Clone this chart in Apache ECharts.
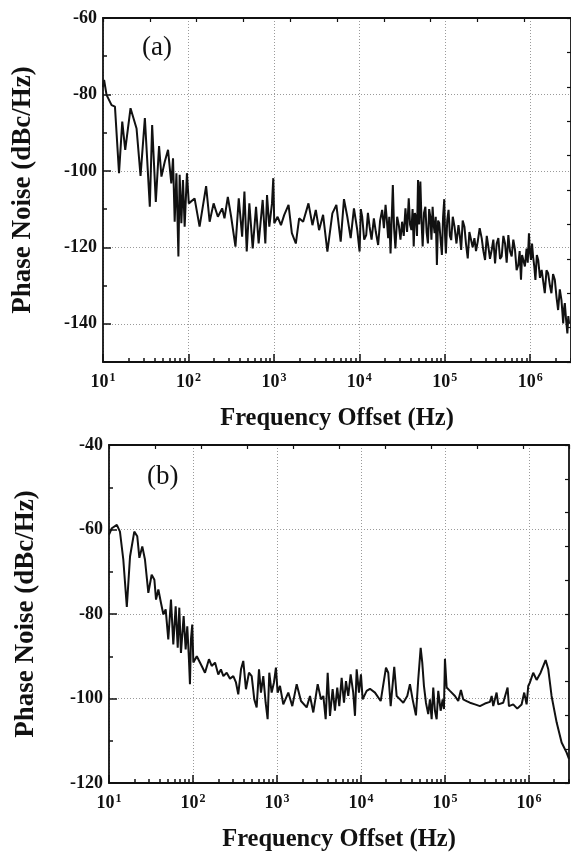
<!DOCTYPE html>
<html><head><meta charset="utf-8">
<script src="https://cdn.jsdelivr.net/npm/echarts@6/dist/echarts.min.js"></script>
<style>html,body{margin:0;padding:0;background:#fff}#c{width:571px;height:853px}</style>
</head><body><div id="c"></div>
<script>
// ---------- data: panel (a) ----------
const freqA = [10, 10.3, 11, 12.6, 13.8, 15.4, 16.8, 18.2, 21, 24.7, 27.5, 30.9, 35.3, 37.6, 41.5, 45.3, 48.3, 52.8, 57.7, 63, 66, 69, 72.3, 76.3, 78.9, 82.6, 86.3, 90.3, 96, 101, 118, 135, 161, 177, 197, 221, 248, 264, 289, 316, 355, 388, 425, 452, 481, 516, 565, 618, 663, 739, 794, 831, 884, 950, 984, 1010, 1105, 1210, 1322, 1484, 1623, 1806, 1975, 2200, 2538, 2826, 3093, 3380, 3765, 4227, 4835, 5385, 6050, 6610, 7230, 7920, 8650, 9460,
  10070, 10400, 10800, 11400, 12030, 12600, 13180, 13900, 14790, 15600, 16600, 17500, 18490, 19400, 20270, 21000, 21740, 22400, 23180, 23900, 24660, 25500, 26440, 27700, 28970, 30300, 31650, 33100, 34650, 36200, 37860, 39200, 40710, 42000, 43290, 44600, 46050, 47300, 48620, 50200, 51780, 53400, 55080, 57100, 59260, 61300, 63500, 65600, 67700, 69800, 72060, 74000, 76030, 78400, 80860, 83500, 86270, 89300, 92520, 95500, 98620,
  100800, 103000, 106800, 110700, 114800, 118900, 124000, 130000, 137000, 144600, 150000, 155400, 162000, 169800, 177000, 185700, 194000, 203300, 212000, 222200, 232000, 242900, 256000, 270300, 283000, 296000, 310000, 323600, 338000, 354000, 370000, 387600, 405000, 423500, 443000, 463200, 485000, 507200, 530000, 554400, 580000, 606500, 634000, 663500, 693000, 725000, 752000, 779600, 803000, 828600, 866000, 905700, 935000, 966000, 990000,
  1020000, 1050000, 1080000, 1115000, 1150000, 1195000, 1240000, 1300000, 1360000, 1420000, 1480000, 1550000, 1620000, 1700000, 1770000, 1850000, 1940000, 2030000, 2120000, 2220000, 2320000, 2380000, 2430000, 2490000, 2540000, 2630000, 2720000, 2790000, 2850000];
const noiseA = [-78, -76.2, -80.1, -82.8, -83.2, -100.6, -87.1, -94.5, -83.6, -88.9, -101.3, -86.2, -109.4, -88, -108.1, -93.5, -101.5, -97.6, -94.5, -103.3, -96.7, -113.3, -100.6, -122.4, -101, -113.7, -102.4, -114.6, -100.6, -108.5, -107.2, -114.6, -104, -113.3, -108.5, -112, -109.8, -112.4, -106.8, -112, -119.8, -107.2, -117.2, -105.4, -121.1, -108.5, -120.3, -109.4, -119, -107.6, -119, -106.3, -114.6, -108.5, -101.9, -113.7, -112, -114.2, -111.5, -108.9, -116.3, -119, -112.4, -113.3, -108.5, -114.2, -110.2, -115.5, -111.5, -121.1, -111.1, -108.9, -118.5, -107.4, -112, -117.6, -109.8, -115.5,
  -121.1, -110, -112, -118, -116.8, -111, -114.6, -118, -112.4, -116, -119.4, -113, -110.2, -115, -108.9, -113, -117.6, -112, -121.6, -113, -103.7, -115, -120.3, -112, -114.2, -118, -113.3, -117, -109.8, -116, -107.2, -114, -115.5, -110, -119.8, -111, -112, -117, -102.4, -114, -102.8, -113, -119.8, -111, -109.4, -116, -119, -110, -112, -118, -109.4, -114, -116.3, -112, -124.6, -113, -113.7, -118, -122, -112, -107.4,
  -117, -121.6, -113, -110.2, -117, -118.1, -112, -114.6, -119, -114.2, -117, -120.7, -113, -114.6, -119, -122.9, -116, -115.9, -120, -117.6, -121, -118.5, -115, -117.6, -121, -123.3, -117, -119.8, -123, -120.7, -118, -124.2, -119, -117.6, -123, -122.4, -117, -119, -124, -116.8, -121, -122.4, -118, -120.7, -126, -124.6, -121, -128.5, -122, -122.4, -125, -120.3, -124, -116.3, -121,
  -123.3, -119, -122.4, -125, -128.5, -122, -123.3, -128, -125.9, -129, -132, -126, -126.8, -130, -132, -127, -128.5, -133, -136.4, -131, -133.8, -137, -139.9, -136, -134.6, -139, -142.5, -138, -140];

// ---------- data: panel (b) ----------
const freqB = [10, 10.8, 12.4, 13.5, 14.8, 16.3, 17.8, 20, 21.7, 23, 24.9, 26.8, 29.4, 32.2, 34.7, 36.3, 38.7, 41.6, 44.4, 47.3, 50.8, 54.7, 58.3, 62.2, 65.8, 68.7, 71.9, 77.4, 81.8, 85.5, 89.5, 92, 94.6, 98, 101, 111, 127, 139, 155, 167, 183, 200, 215, 230, 252, 276, 302, 325, 346, 373, 397, 427, 464, 500, 537, 573, 611, 645, 687, 733, 774, 810, 864, 921, 972, 1018, 1086, 1189, 1364, 1522, 1717, 1932, 2258, 2473, 2707, 3054, 3343, 3566, 3800, 4016, 4278, 4600, 4900, 5220, 5520, 5890, 6280, 6630, 7060, 7540, 8090, 8490, 8890, 9470, 10000, 10470, 11690, 12800, 14690, 17180, 19860, 21140, 22590, 24910, 26610, 29120, 31910, 35590, 38310, 41210, 45150, 48080, 51400, 53700, 56230, 59420, 63240, 66250, 69450, 72600, 76030, 79650, 83250, 88900, 93900, 97300, 100000, 104800, 114700, 131600, 144000, 155000, 165000, 181000, 198500, 227700, 261000, 299500, 343500, 360000, 376000, 412000, 431000, 494000, 557000, 578000, 650000, 726000, 818000, 879000, 938000, 982000, 1028000, 1125000, 1235000, 1377000, 1580000, 1700000, 1860000, 2140000, 2450000, 2810000, 3000000];
const noiseB = [-61.2, -59.7, -58.9, -60.5, -67.1, -78.3, -66.4, -60.5, -61.6, -66.7, -64, -67.1, -75, -70.7, -71.9, -76.6, -74.2, -77.4, -80.1, -78.9, -86, -76.6, -87.2, -78.2, -88, -78.5, -89.2, -80.5, -88.4, -82.9, -90.7, -96.6, -86, -82.5, -91.5, -90, -92.3, -93.9, -90.7, -92.3, -91.5, -94.3, -93.1, -94.7, -93.9, -95.3, -94.7, -96.2, -99, -93.1, -91.1, -97.8, -93.9, -94.7, -100.2, -102.1, -93.1, -98.6, -94.7, -101, -104.9, -93.9, -98.6, -96.2, -92.7, -98.6, -97, -101.4, -98.6, -101.8, -96.6, -100.6, -102.1, -99.4, -103.3, -96.6, -100.2, -99.4, -104.9, -93.9, -104.1, -97.8, -102.9, -97.4, -101.8, -95.1, -101, -95.9, -99.4, -94.3, -98.6, -104.1, -93.1, -98.6, -94.3, -100.2, -98.2, -97.7, -98.6, -100.6, -92.7, -93.9, -101.8, -92.5, -99.4, -100.2, -101, -99.4, -96.6, -100.2, -104, -95.5, -88, -91.5, -97, -101, -103.7, -100.2, -104.9, -97.4, -102.9, -104.9, -98.2, -102.9, -100.2, -102.5, -90.6, -97.4, -98.2, -99.4, -100.6, -98, -100.2, -100.6, -101, -101.4, -101.8, -101.2, -100.8, -99.4, -101.8, -98.6, -101.4, -101, -97.4, -101.8, -101.4, -102.4, -101.4, -98.6, -101.4, -97, -96.2, -93.9, -95.6, -93.9, -90.9, -93.1, -99.4, -105.7, -110.4, -112.8, -114.3];

// ---------- tick labels ----------
const xMajorTicks = [10, 100, 1000, 10000, 100000, 1000000];
const xMinorTicks = [20,30,40,50,60,70,80,90, 200,300,400,500,600,700,800,900, 2000,3000,4000,5000,6000,7000,8000,9000, 20000,30000,40000,50000,60000,70000,80000,90000, 200000,300000,400000,500000,600000,700000,800000,900000, 2000000,3000000];
const yTicksA = [-140, -120, -100, -80, -60];
const yMinorA = [-150, -130, -110, -90, -70];
const yTicksB = [-120, -100, -80, -60, -40];
const yMinorB = [-110, -90, -70, -50];
const panelLabels = ['(a)', '(b)'];
const xTitle = 'Frequency Offset (Hz)';
const yTitle = 'Phase Noise (dBc/Hz)';

const FONT = '"Liberation Serif", "Times New Roman", serif';
const AX = {color: '#111', width: 1.8};

function xAxes(g, xmax) {
  return [
    { type: 'log', logBase: 10, gridIndex: g, min: 10, max: xmax, position: 'bottom',
      axisLine: {show: true, onZero: false, lineStyle: AX},
      axisTick: {show: true, inside: true, length: 8, customValues: xMajorTicks, lineStyle: {color: '#111', width: 1.5}},
      axisLabel: {show: true, customValues: xMajorTicks, margin: 10,
        formatter: v => '{b|10}{s|' + Math.round(Math.log10(v)) + '}',
        rich: {b: {fontFamily: FONT, fontWeight: 'bold', fontSize: 18, color: '#111'},
               s: {fontFamily: FONT, fontWeight: 'bold', fontSize: 12, color: '#111', padding: [0, 0, 9, 1]}}},
      splitLine: {show: true, lineStyle: {color: '#9a9a9a', width: 1, type: [1, 2]}},
      name: xTitle, nameLocation: 'middle', nameGap: 44,
      nameTextStyle: {fontFamily: FONT, fontWeight: 'bold', fontSize: 24.5, color: '#111'} },
    { type: 'log', logBase: 10, gridIndex: g, min: 10, max: xmax, position: 'bottom',
      axisLine: {show: false},
      axisTick: {show: true, inside: true, length: 4, customValues: xMinorTicks, lineStyle: {color: '#111', width: 1.5}},
      axisLabel: {show: false}, splitLine: {show: false} },
    { type: 'value', gridIndex: g, min: 0, max: 10, interval: 1, position: 'top',
      axisLine: {show: true, onZero: false, lineStyle: AX},
      axisTick: {show: true, inside: true, length: 4, lineStyle: {color: '#111', width: 1.2}},
      axisLabel: {show: false}, splitLine: {show: false} }
  ];
}
function yAxes(g, ymin, ymax, major, minor, gap) {
  return [
    { type: 'value', gridIndex: g, min: ymin, max: ymax, interval: 10, position: 'left',
      axisLine: {show: true, onZero: false, lineStyle: AX},
      axisTick: {show: true, inside: true, length: 8, customValues: major, lineStyle: {color: '#111', width: 1.5}},
      axisLabel: {show: true, customValues: major, margin: 6, fontFamily: FONT, fontWeight: 'bold', fontSize: 18, color: '#111'},
      splitLine: {show: true, lineStyle: {color: '#9a9a9a', width: 1, type: [1, 2]}},
      name: yTitle, nameLocation: 'middle', nameGap: gap, nameRotate: 90,
      nameTextStyle: {fontFamily: FONT, fontWeight: 'bold', fontSize: 27, color: '#111'} },
    { type: 'value', gridIndex: g, min: ymin, max: ymax, position: 'left',
      axisLine: {show: false},
      axisTick: {show: true, inside: true, length: 4, customValues: minor, lineStyle: {color: '#111', width: 1.5}},
      axisLabel: {show: false}, splitLine: {show: false} },
    { type: 'value', gridIndex: g, min: 0, max: 10, interval: 1, position: 'right',
      axisLine: {show: true, onZero: false, lineStyle: AX},
      axisTick: {show: true, inside: true, length: 4, lineStyle: {color: '#111', width: 1.2}},
      axisLabel: {show: false}, splitLine: {show: false} }
  ];
}

const chart = echarts.init(document.getElementById('c'), null, {renderer: 'canvas'});
chart.setOption({
  animation: false,
  backgroundColor: '#fff',
  grid: [
    {left: 103, top: 18, right: -2, bottom: 491, containLabel: false},
    {left: 109, top: 445, right: 2, bottom: 69, containLabel: false}
  ],
  xAxis: [...xAxes(0, 3000000), ...xAxes(1, 3000000)],
  yAxis: [...yAxes(0, -150, -60, yTicksA, yMinorA, 66), ...yAxes(1, -120, -40, yTicksB, yMinorB, 69)],
  graphic: [
    {type: 'text', left: 142, top: 34, style: {text: panelLabels[0], font: 'normal 27px ' + FONT, fill: '#111'}},
    {type: 'text', left: 147, top: 463, style: {text: panelLabels[1], font: 'normal 27px ' + FONT, fill: '#111'}}
  ],
  series: [
    {type: 'line', xAxisIndex: 0, yAxisIndex: 0, symbol: 'none', showSymbol: false, clip: true,
     lineStyle: {color: '#111', width: 2}, data: freqA.map((f, i) => [f, noiseA[i]])},
    {type: 'line', xAxisIndex: 3, yAxisIndex: 3, symbol: 'none', showSymbol: false, clip: true,
     lineStyle: {color: '#111', width: 2}, data: freqB.map((f, i) => [f, noiseB[i]])}
  ]
});
</script></body></html>
